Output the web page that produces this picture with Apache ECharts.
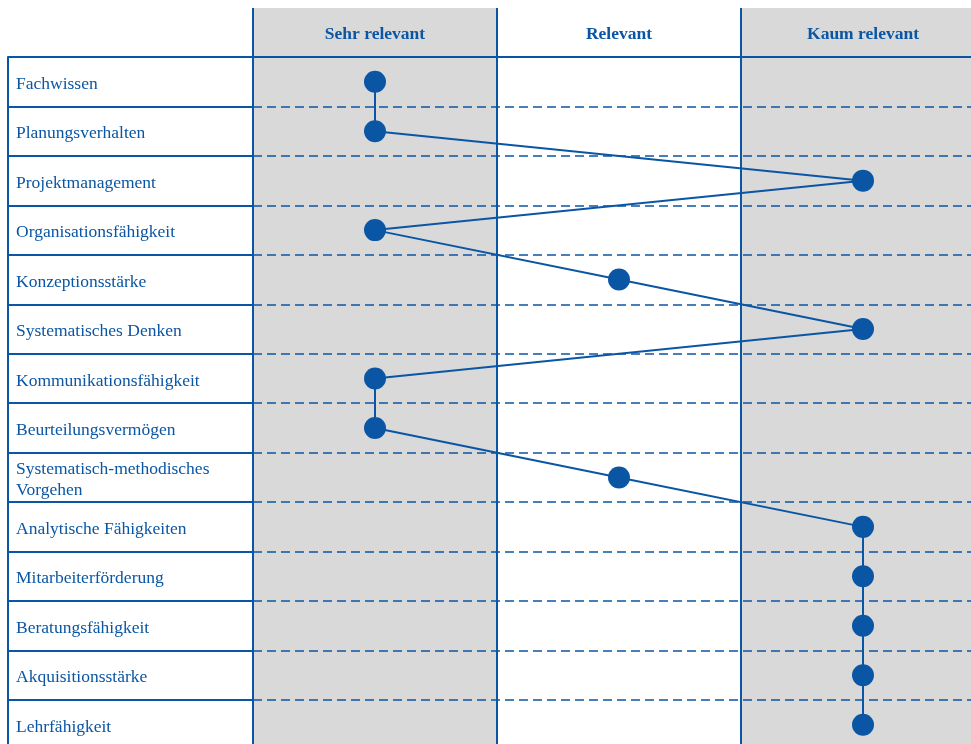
<!DOCTYPE html>
<html><head><meta charset="utf-8">
<script src="https://cdn.jsdelivr.net/npm/echarts@6/dist/echarts.min.js"></script>
<style>html,body{margin:0;padding:0;background:#fff}#c{width:971px;height:744px}</style>
</head><body><div id="c"></div>
<script>
const ratingLevels = ['Sehr relevant', 'Relevant', 'Kaum relevant'];
const skills = ['Fachwissen','Planungsverhalten','Projektmanagement','Organisationsfähigkeit','Konzeptionsstärke','Systematisches Denken','Kommunikationsfähigkeit','Beurteilungsvermögen','Systematisch-methodisches\nVorgehen','Analytische Fähigkeiten','Mitarbeiterförderung','Beratungsfähigkeit','Akquisitionsstärke','Lehrfähigkeit'];
const ratings = ['Sehr relevant','Sehr relevant','Kaum relevant','Sehr relevant','Relevant','Kaum relevant','Sehr relevant','Sehr relevant','Relevant','Kaum relevant','Kaum relevant','Kaum relevant','Kaum relevant','Kaum relevant'];

const BLUE = '#0a56a4';
const GRAY = '#d9d9d9';
const FONT = '"Liberation Serif","Times New Roman",serif';
const ROW_H = 49.46;
const H = ROW_H * skills.length;

const chart = echarts.init(document.getElementById('c'), null, {renderer:'canvas'});
chart.setOption({
  animation:false,
  backgroundColor:'#fff',
  grid:[
    {left:253, top:8, width:732, height:49, outerBoundsMode:'none'},
    {left:253, top:57, width:732, height:H, outerBoundsMode:'none'},
    {left:8, top:57, width:245, height:H, outerBoundsMode:'none'}
  ],
  xAxis:[
    {gridIndex:0, type:'category', data:ratingLevels, position:'top', z:0,
     axisLine:{show:true, lineStyle:{color:BLUE, width:2}}, axisTick:{show:false},
     axisLabel:{show:false},
     splitArea:{show:true, areaStyle:{color:[GRAY,'#ffffff']}},
     splitLine:{show:true, lineStyle:{color:BLUE, width:2}}},
    {gridIndex:1, type:'category', data:ratingLevels, position:'top', z:0,
     axisLine:{show:true, lineStyle:{color:BLUE, width:2}}, axisTick:{show:false},
     axisLabel:{show:true, margin:14, color:BLUE, fontFamily:FONT, fontWeight:'bold', fontSize:17.5},
     splitArea:{show:true, areaStyle:{color:[GRAY,'#ffffff']}},
     splitLine:{show:true, lineStyle:{color:BLUE, width:2}}},
    {gridIndex:2, type:'value', show:false}
  ],
  yAxis:[
    {gridIndex:0, type:'value', show:false},
    {gridIndex:1, type:'category', data:skills, inverse:true, z:1,
     axisLine:{show:true, lineStyle:{color:BLUE, width:2}}, axisTick:{show:false},
     axisLabel:{show:false},
     splitLine:{show:true, lineStyle:{color:BLUE, width:1.5, type:[9,5]}}},
    {gridIndex:2, type:'category', data:skills, inverse:true,
     axisLine:{show:true, lineStyle:{color:BLUE, width:2}}, axisTick:{show:false},
     axisLabel:{show:true, inside:true, margin:8, color:BLUE, fontFamily:FONT, fontSize:17.5, lineHeight:21, align:'left',
       formatter: v => '{t|' + v.split('\n').join('}\n{t|') + '}',
       rich:{t:{color:BLUE, fontFamily:FONT, fontSize:17.5, lineHeight:21, padding:[5,0,0,0]}}},
     splitLine:{show:true, lineStyle:{color:BLUE, width:2}}}
  ],
  series:[{
    type:'line', xAxisIndex:1, yAxisIndex:1,
    data: skills.map((s,i)=>[ratings[i], s]),
    symbol:'circle', symbolSize:22,
    lineStyle:{color:BLUE, width:2},
    itemStyle:{color:BLUE},
    z:10
  }]
});
</script></body></html>
